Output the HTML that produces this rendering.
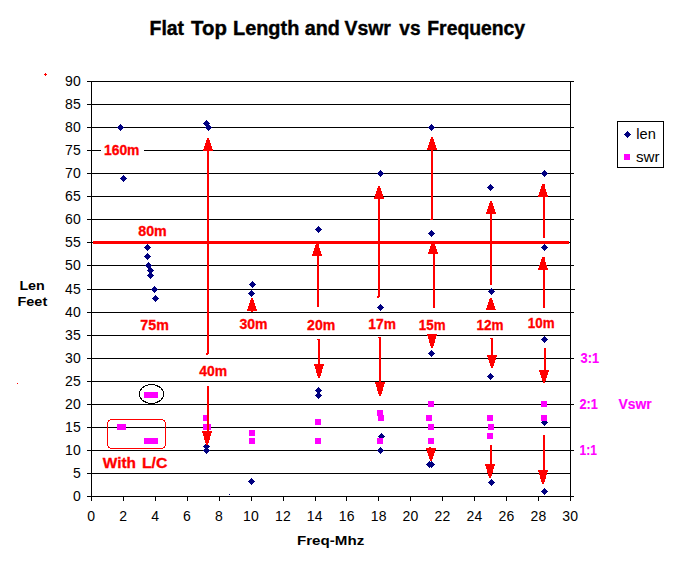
<!DOCTYPE html>
<html><head><meta charset="utf-8"><title>Flat Top Length and Vswr vs Frequency</title>
<style>html,body{margin:0;padding:0;background:#fff}body{width:678px;height:565px;overflow:hidden}svg{display:block}text{font-family:"Liberation Sans",sans-serif}.ax{font-size:14px;fill:#000;letter-spacing:0.2px}.rb{font-size:13.8px;font-weight:bold;fill:#f00;stroke:#f00;stroke-width:0.3px}.mb{font-size:14px;font-weight:bold;fill:#f0f;stroke:#f0f;stroke-width:0.15px}.bk{font-weight:bold;fill:#000}</style></head><body>
<svg width="678" height="565" viewBox="0 0 678 565">
<rect width="678" height="565" fill="#fff"/>
<text class="bk" y="35" font-size="19.6px" stroke="#000" stroke-width="0.4"><tspan x="149.6" textLength="34.5" lengthAdjust="spacingAndGlyphs">Flat</tspan> <tspan x="191.1" textLength="35.8" lengthAdjust="spacingAndGlyphs">Top</tspan> <tspan x="233.0" textLength="66.3" lengthAdjust="spacingAndGlyphs">Length</tspan> <tspan x="304.8" textLength="35.1" lengthAdjust="spacingAndGlyphs">and</tspan> <tspan x="344.5" textLength="46.4" lengthAdjust="spacingAndGlyphs">Vswr</tspan> <tspan x="399.3" textLength="21.2" lengthAdjust="spacingAndGlyphs">vs</tspan> <tspan x="427.3" textLength="97.8" lengthAdjust="spacingAndGlyphs">Frequency</tspan></text>
<g stroke="#000" stroke-width="1" shape-rendering="crispEdges">
<line x1="87" y1="496.5" x2="574" y2="496.5"/>
<line x1="87" y1="473.5" x2="571" y2="473.5"/>
<line x1="87" y1="450.5" x2="574" y2="450.5"/>
<line x1="87" y1="427.5" x2="571" y2="427.5"/>
<line x1="87" y1="404.5" x2="574" y2="404.5"/>
<line x1="87" y1="381.5" x2="571" y2="381.5"/>
<line x1="87" y1="358.5" x2="574" y2="358.5"/>
<line x1="87" y1="335.5" x2="571" y2="335.5"/>
<line x1="87" y1="312.5" x2="574" y2="312.5"/>
<line x1="87" y1="289.5" x2="575" y2="289.5"/>
<line x1="87" y1="265.5" x2="574" y2="265.5"/>
<line x1="87" y1="242.5" x2="571" y2="242.5"/>
<line x1="87" y1="219.5" x2="574" y2="219.5"/>
<line x1="87" y1="196.5" x2="571" y2="196.5"/>
<line x1="87" y1="173.5" x2="574" y2="173.5"/>
<line x1="87" y1="150.5" x2="571" y2="150.5"/>
<line x1="87" y1="127.5" x2="574" y2="127.5"/>
<line x1="87" y1="104.5" x2="571" y2="104.5"/>
<line x1="87" y1="81.5" x2="574" y2="81.5"/>
<line x1="91.5" y1="81" x2="91.5" y2="501"/>
<line x1="570.5" y1="81" x2="570.5" y2="501"/>
<line x1="91.5" y1="496" x2="91.5" y2="501"/>
<line x1="123.5" y1="496" x2="123.5" y2="501"/>
<line x1="155.5" y1="496" x2="155.5" y2="501"/>
<line x1="187.5" y1="496" x2="187.5" y2="501"/>
<line x1="219.5" y1="496" x2="219.5" y2="501"/>
<line x1="251.5" y1="496" x2="251.5" y2="501"/>
<line x1="283.5" y1="496" x2="283.5" y2="501"/>
<line x1="315.5" y1="496" x2="315.5" y2="501"/>
<line x1="346.5" y1="496" x2="346.5" y2="501"/>
<line x1="378.5" y1="496" x2="378.5" y2="501"/>
<line x1="410.5" y1="496" x2="410.5" y2="501"/>
<line x1="442.5" y1="496" x2="442.5" y2="501"/>
<line x1="474.5" y1="496" x2="474.5" y2="501"/>
<line x1="506.5" y1="496" x2="506.5" y2="501"/>
<line x1="538.5" y1="496" x2="538.5" y2="501"/>
<line x1="570.5" y1="496" x2="570.5" y2="501"/>
</g>
<g class="ax" text-anchor="end">
<text x="80.9" y="501">0</text>
<text x="80.9" y="478">5</text>
<text x="80.9" y="455">10</text>
<text x="80.9" y="432">15</text>
<text x="80.9" y="409">20</text>
<text x="80.9" y="386">25</text>
<text x="80.9" y="363">30</text>
<text x="80.9" y="340">35</text>
<text x="80.9" y="317">40</text>
<text x="80.9" y="294">45</text>
<text x="80.9" y="270">50</text>
<text x="80.9" y="247">55</text>
<text x="80.9" y="224">60</text>
<text x="80.9" y="201">65</text>
<text x="80.9" y="178">70</text>
<text x="80.9" y="155">75</text>
<text x="80.9" y="132">80</text>
<text x="80.9" y="109">85</text>
<text x="80.9" y="86">90</text>
</g>
<g class="ax" text-anchor="middle">
<text x="91.3" y="521">0</text>
<text x="123.2" y="521">2</text>
<text x="155.2" y="521">4</text>
<text x="187.1" y="521">6</text>
<text x="219.0" y="521">8</text>
<text x="251.0" y="521">10</text>
<text x="282.9" y="521">12</text>
<text x="314.8" y="521">14</text>
<text x="346.8" y="521">16</text>
<text x="378.7" y="521">18</text>
<text x="410.6" y="521">20</text>
<text x="442.6" y="521">22</text>
<text x="474.5" y="521">24</text>
<text x="506.4" y="521">26</text>
<text x="538.4" y="521">28</text>
<text x="570.3" y="521">30</text>
</g>
<text class="bk" x="19.4" y="290.0" font-size="12.8px" textLength="25.4" lengthAdjust="spacingAndGlyphs">Len</text>
<text class="bk" x="17.5" y="305.9" font-size="12.8px" textLength="29.7" lengthAdjust="spacingAndGlyphs">Feet</text>
<text class="bk" x="297.0" y="544.7" font-size="12.8px" textLength="67.2" lengthAdjust="spacingAndGlyphs">Freq-Mhz</text>
<rect x="617.5" y="121.5" width="46" height="46" fill="#fff" stroke="#000" stroke-width="1" shape-rendering="crispEdges"/>
<text x="636.3" y="138.8" font-size="14.6px" fill="#000">len</text>
<text x="636.0" y="161.9" font-size="14.6px" fill="#000" textLength="23.6" lengthAdjust="spacingAndGlyphs">swr</text>
<g fill="#000080" shape-rendering="crispEdges">
<path d="M120.5 124.0L124.0 127.5L120.5 131.0L117.0 127.5Z"/>
<path d="M123.5 175.0L127.0 178.5L123.5 182.0L120.0 178.5Z"/>
<path d="M147.5 244.0L151.0 247.5L147.5 251.0L144.0 247.5Z"/>
<path d="M147.5 253.0L151.0 256.5L147.5 260.0L144.0 256.5Z"/>
<path d="M148.5 262.0L152.0 265.5L148.5 269.0L145.0 265.5Z"/>
<path d="M150.5 267.0L154.0 270.5L150.5 274.0L147.0 270.5Z"/>
<path d="M150.5 272.0L154.0 275.5L150.5 279.0L147.0 275.5Z"/>
<path d="M154.5 286.0L158.0 289.5L154.5 293.0L151.0 289.5Z"/>
<path d="M155.5 295.0L159.0 298.5L155.5 302.0L152.0 298.5Z"/>
<path d="M206.5 120.0L210.0 123.5L206.5 127.0L203.0 123.5Z"/>
<path d="M208.5 124.0L212.0 127.5L208.5 131.0L205.0 127.5Z"/>
<path d="M206.5 443.0L210.0 446.5L206.5 450.0L203.0 446.5Z"/>
<path d="M206.5 447.0L210.0 450.5L206.5 454.0L203.0 450.5Z"/>
<path d="M252.5 281.0L256.0 284.5L252.5 288.0L249.0 284.5Z"/>
<path d="M251.5 290.0L255.0 293.5L251.5 297.0L248.0 293.5Z"/>
<path d="M251.5 478.0L255.0 481.5L251.5 485.0L248.0 481.5Z"/>
<path d="M318.5 226.0L322.0 229.5L318.5 233.0L315.0 229.5Z"/>
<path d="M318.5 387.0L322.0 390.5L318.5 394.0L315.0 390.5Z"/>
<path d="M318.5 392.0L322.0 395.5L318.5 399.0L315.0 395.5Z"/>
<path d="M380.5 170.0L384.0 173.5L380.5 177.0L377.0 173.5Z"/>
<path d="M380.5 304.0L384.0 307.5L380.5 311.0L377.0 307.5Z"/>
<path d="M381.5 433.0L385.0 436.5L381.5 440.0L378.0 436.5Z"/>
<path d="M380.5 447.0L384.0 450.5L380.5 454.0L377.0 450.5Z"/>
<path d="M431.5 124.0L435.0 127.5L431.5 131.0L428.0 127.5Z"/>
<path d="M431.5 230.0L435.0 233.5L431.5 237.0L428.0 233.5Z"/>
<path d="M431.5 350.0L435.0 353.5L431.5 357.0L428.0 353.5Z"/>
<path d="M429.5 461.0L433.0 464.5L429.5 468.0L426.0 464.5Z"/>
<path d="M431.5 461.0L435.0 464.5L431.5 468.0L428.0 464.5Z"/>
<path d="M490.5 184.0L494.0 187.5L490.5 191.0L487.0 187.5Z"/>
<path d="M491.5 288.0L495.0 291.5L491.5 295.0L488.0 291.5Z"/>
<path d="M490.5 373.0L494.0 376.5L490.5 380.0L487.0 376.5Z"/>
<path d="M491.5 479.0L495.0 482.5L491.5 486.0L488.0 482.5Z"/>
<path d="M544.5 170.0L548.0 173.5L544.5 177.0L541.0 173.5Z"/>
<path d="M544.5 244.0L548.0 247.5L544.5 251.0L541.0 247.5Z"/>
<path d="M544.5 336.0L548.0 339.5L544.5 343.0L541.0 339.5Z"/>
<path d="M544.5 419.0L548.0 422.5L544.5 426.0L541.0 422.5Z"/>
<path d="M544.5 488.0L548.0 491.5L544.5 495.0L541.0 491.5Z"/>
<path d="M627.5 131.0L631.0 134.5L627.5 138.0L624.0 134.5Z"/>
<rect x="229" y="494" width="1" height="1"/>
</g>
<g fill="#ff00ff" shape-rendering="crispEdges">
<rect x="117" y="424" width="6" height="6"/>
<rect x="120" y="424" width="6" height="6"/>
<rect x="144" y="392" width="6" height="6"/>
<rect x="148" y="392" width="6" height="6"/>
<rect x="152" y="392" width="6" height="6"/>
<rect x="144" y="438" width="6" height="6"/>
<rect x="148" y="438" width="6" height="6"/>
<rect x="152" y="438" width="6" height="6"/>
<rect x="203" y="415" width="6" height="6"/>
<rect x="203" y="424" width="6" height="6"/>
<rect x="205" y="424" width="6" height="6"/>
<rect x="249" y="430" width="6" height="6"/>
<rect x="249" y="438" width="6" height="6"/>
<rect x="315" y="419" width="6" height="6"/>
<rect x="315" y="438" width="6" height="6"/>
<rect x="377" y="410" width="6" height="6"/>
<rect x="378" y="415" width="6" height="6"/>
<rect x="377" y="438" width="6" height="6"/>
<rect x="428" y="401" width="6" height="6"/>
<rect x="426" y="415" width="6" height="6"/>
<rect x="428" y="424" width="6" height="6"/>
<rect x="428" y="438" width="6" height="6"/>
<rect x="487" y="415" width="6" height="6"/>
<rect x="488" y="424" width="6" height="6"/>
<rect x="487" y="433" width="6" height="6"/>
<rect x="541" y="401" width="6" height="6"/>
<rect x="541" y="415" width="6" height="6"/>
<rect x="624" y="154" width="6" height="6"/>
</g>
<ellipse cx="151.5" cy="394" rx="12" ry="9.5" fill="none" stroke="#000" stroke-width="1" shape-rendering="crispEdges"/>
<rect x="107.5" y="419.5" width="58" height="29" rx="4.5" ry="4.5" fill="none" stroke="#f00" stroke-width="1" shape-rendering="crispEdges"/>
<g fill="#f00" stroke="none" shape-rendering="crispEdges">
<rect x="93" y="241" width="476" height="3"/>
<path d="M207 138L209 138L213 151L203 151Z"/><rect x="207" y="138" width="2" height="216"/>
<rect x="206" y="353" width="1" height="2"/>
<rect x="207" y="354" width="1" height="1"/>
<path d="M202 431L212 431L208 445L206 445Z"/><rect x="207" y="386" width="2" height="46"/>
<path d="M251 298L253 298L257 311L247 311Z"/>
<rect x="251" y="311" width="2" height="1"/>
<path d="M316 243L318 243L322 256L312 256Z"/><rect x="317" y="243" width="2" height="64"/>
<path d="M314 364L324 364L320 378L318 378Z"/><rect x="318" y="339" width="2" height="26"/>
<rect x="317" y="339" width="1" height="1"/>
<path d="M378 186L380 186L384 199L374 199Z"/><rect x="378" y="186" width="2" height="111"/>
<rect x="377" y="296" width="1" height="2"/>
<rect x="378" y="297" width="1" height="1"/>
<path d="M375 382L385 382L381 396L379 396Z"/><rect x="379" y="337" width="2" height="46"/>
<rect x="378" y="337" width="1" height="1"/>
<path d="M431 137L433 137L437 150L427 150Z"/><rect x="431" y="137" width="2" height="83"/>
<rect x="430" y="219" width="1" height="1"/>
<path d="M432 241L434 241L438 254L428 254Z"/><rect x="433" y="241" width="2" height="67"/>
<path d="M427 334L437 334L433 348L431 348Z"/>
<path d="M426 448L436 448L432 461L430 461Z"/>
<rect x="429" y="447" width="2" height="1"/>
<path d="M490 201L492 201L496 214L486 214Z"/><rect x="490" y="201" width="2" height="84"/>
<path d="M490 298L492 298L496 310L486 310Z"/>
<path d="M487 355L497 355L493 368L491 368Z"/><rect x="491" y="338" width="2" height="18"/>
<rect x="490" y="338" width="1" height="1"/>
<path d="M485 464L495 464L491 478L489 478Z"/><rect x="490" y="445" width="2" height="20"/>
<path d="M542 184L544 184L548 197L538 197Z"/><rect x="543" y="184" width="2" height="54"/>
<path d="M542 257L544 257L548 270L538 270Z"/><rect x="543" y="257" width="2" height="51"/>
<path d="M539 370L549 370L545 383L543 383Z"/><rect x="544" y="348" width="2" height="23"/>
<path d="M538 470L548 470L544 484L542 484Z"/><rect x="543" y="435" width="2" height="36"/>
<rect x="45" y="73" width="1" height="3"/><rect x="44" y="74" width="3" height="1"/>
<rect x="17" y="383" width="1" height="1"/>
</g>
<rect x="101" y="143" width="43" height="15" fill="#fff"/>
<text class="rb" x="103.98" y="155" textLength="35.48" lengthAdjust="spacingAndGlyphs">160m</text>
<text class="rb" x="138.21" y="236" textLength="28.53" lengthAdjust="spacingAndGlyphs">80m</text>
<text class="rb" x="140.35" y="330" textLength="28.46" lengthAdjust="spacingAndGlyphs">75m</text>
<text class="rb" x="199.38" y="376" textLength="27.89" lengthAdjust="spacingAndGlyphs">40m</text>
<text class="rb" x="239.43" y="329" textLength="28.11" lengthAdjust="spacingAndGlyphs">30m</text>
<text class="rb" x="307.08" y="330" textLength="28.22" lengthAdjust="spacingAndGlyphs">20m</text>
<text class="rb" x="368.32" y="329" textLength="27.58" lengthAdjust="spacingAndGlyphs">17m</text>
<text class="rb" x="418.80" y="330" textLength="26.71" lengthAdjust="spacingAndGlyphs">15m</text>
<text class="rb" x="476.40" y="330" textLength="27.08" lengthAdjust="spacingAndGlyphs">12m</text>
<text class="rb" x="527.80" y="328" textLength="26.80" lengthAdjust="spacingAndGlyphs">10m</text>
<text y="467.7" font-size="14.67px" font-weight="bold" fill="#f00" stroke="#f00" stroke-width="0.3"><tspan x="102.8" textLength="33.2" lengthAdjust="spacingAndGlyphs">With</tspan> <tspan x="141.9" textLength="25.4" lengthAdjust="spacingAndGlyphs">L/C</tspan></text>
<text class="mb" x="580.6" y="363" textLength="18.6" lengthAdjust="spacingAndGlyphs">3:1</text>
<text class="mb" x="579.4" y="409" textLength="18.4" lengthAdjust="spacingAndGlyphs">2:1</text>
<text class="mb" x="618.5" y="409" textLength="33.2" lengthAdjust="spacingAndGlyphs">Vswr</text>
<text class="mb" x="579.6" y="455" textLength="17.4" lengthAdjust="spacingAndGlyphs">1:1</text>
</svg></body></html>
